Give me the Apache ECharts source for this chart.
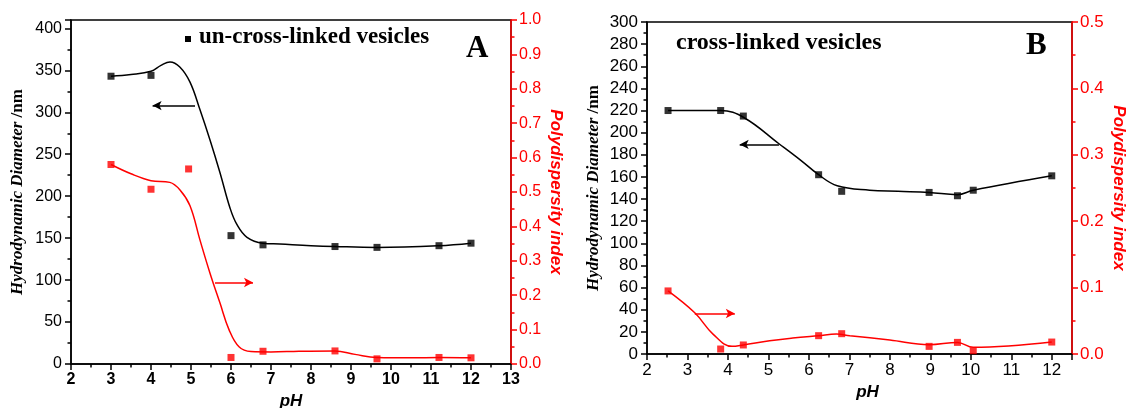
<!DOCTYPE html>
<html>
<head>
<meta charset="utf-8">
<script src="https://cdn.jsdelivr.net/npm/echarts@6/dist/echarts.min.js"></script>
<style>html,body{margin:0;padding:0;background:#fff}#c{width:1127px;height:408px}</style>
</head>
<body>
<div id="c"></div>
<script>
// ---------- Panel A (un-cross-linked vesicles) ----------
const phA = [3, 4, 6, 6.8, 8.6, 9.65, 11.2, 12];
const diamA = [343, 344, 153, 142, 140, 139, 141, 144];
const phPdiA = [3, 4, 4.94, 6, 6.8, 8.6, 9.65, 11.2, 12];
const pdiA = [0.58, 0.508, 0.567, 0.019, 0.037, 0.038, 0.015, 0.019, 0.018];
const fitDiamA = [[3,343],[3.5,345],[4,349],[4.25,356],[4.475,360],[4.72,354],[4.975,336],[5.225,303],[5.475,267],[5.725,228],[5.975,186],[6.15,166],[6.4,151],[6.8,144],[7.22,143],[8,141],[8.6,140],[9.65,139],[11.2,141],[12,144]];
const fitPdiA = [[3,0.58],[3.5,0.553],[4,0.533],[4.47,0.528],[4.725,0.506],[4.975,0.46],[5.225,0.36],[5.475,0.264],[5.725,0.177],[5.95,0.1],[6.2,0.05],[6.5,0.036],[7,0.035],[7.7,0.037],[8.6,0.038],[9.1,0.028],[9.65,0.019],[10.5,0.018],[11.2,0.019],[12,0.018]];
const arrowDiamA = [[5.1, 308], [4.04, 308]];
const arrowPdiA = [[5.6, 0.237], [6.55, 0.237]];

// ---------- Panel B (cross-linked vesicles) ----------
const phB = [2.52, 3.82, 4.38, 6.24, 6.81, 8.97, 9.67, 10.06, 12];
const diamB = [220, 220, 215, 162, 147, 146, 143, 148, 161];
const pdiB = [0.095, 0.0075, 0.0136, 0.0276, 0.0306, 0.0115, 0.0175, 0.005, 0.018];
const fitDiamB = [[2.52,220],[3.2,220],[3.82,220],[4.4,213.5],[5.26,190],[5.8,175],[6.24,162],[6.7,152],[7.5,148],[8.2,147],[8.97,146],[9.67,144],[10.06,148],[12,161]];
const fitPdiB = [[2.52,0.095],[3.18,0.062],[3.63,0.030],[4.1,0.0115],[4.38,0.0136],[5.03,0.020],[5.6,0.024],[6.24,0.0276],[6.68,0.030],[7.01,0.0276],[8,0.021],[8.97,0.014],[9.67,0.0175],[10.06,0.010],[12,0.018]];
const arrowDiamB = [[5.26, 189.4], [4.29, 189.4]];
const arrowPdiB = [[3.18, 0.061], [4.17, 0.061]];

const chart = echarts.init(document.getElementById('c'));
const SANS = 'Liberation Sans';
const SERIF = 'Liberation Serif';

function pairs(xs, ys){ return xs.map((x,i)=>[x, ys[i]]); }

function xAx(grid, min, max, bold, fs, gap, pad){
  return {
    type:'value', gridIndex:grid, min:min, max:max, interval:1,
    name:'pH', nameLocation:'middle', nameGap:gap,
    nameTextStyle:{fontFamily:SANS, fontWeight:'bold', fontStyle:'italic', fontSize:17, color:'#000', padding:[0,0,0,pad]},
    axisLine:{show:true, onZero:false, lineStyle:{color:'#000', width:1.5}},
    axisTick:{show:true, inside:false, length:6, lineStyle:{width:1.5}},
    minorTick:{show:true, splitNumber:2, length:3.5, lineStyle:{width:1.5, color:'#000'}},
    splitLine:{show:false},
    axisLabel:{fontFamily:SANS, fontSize:fs, fontWeight:bold?'bold':'normal', color:'#000', margin:8, showMaxLabel: max===13},
  };
}
function yLeft(grid, max, interval, gap, fs){
  return {
    type:'value', gridIndex:grid, position:'left', min:0, max:max, interval:interval,
    name:'{i|Hydrodynamic Diameter }{n|/nm}', nameLocation:'middle', nameGap:gap, nameRotate:90,
    nameTextStyle:{rich:{
      i:{fontFamily:SERIF, fontWeight:'bold', fontStyle:'italic', fontSize:17, color:'#000'},
      n:{fontFamily:SERIF, fontWeight:'bold', fontSize:17, color:'#000'}}},
    axisLine:{show:true, lineStyle:{color:'#000', width:1.5}},
    axisTick:{show:true, inside:false, length:6, lineStyle:{width:1.5}},
    minorTick:{show:true, splitNumber:2, length:3.5, lineStyle:{width:1.5, color:'#000'}},
    splitLine:{show:false},
    axisLabel:{fontFamily:SANS, fontSize:fs, color:'#000', margin:9, showMaxLabel: max%interval===0},
  };
}
function yRight(grid, max, gap, fs){
  return {
    type:'value', gridIndex:grid, position:'right', min:0, max:max, interval:0.1,
    name:'Polydispersity index', nameLocation:'middle', nameGap:gap, nameRotate:-90,
    nameTextStyle:{fontFamily:SANS, fontWeight:'bold', fontStyle:'italic', fontSize:17, color:'#ff0000'},
    axisLine:{show:true, lineStyle:{color:'#ff0000', width:1.5}},
    axisTick:{show:true, inside:false, length:6, lineStyle:{width:1.5}},
    minorTick:{show:true, splitNumber:2, length:3.5, lineStyle:{width:1.5, color:'#ff0000'}},
    splitLine:{show:false},
    axisLabel:{fontFamily:SANS, fontSize:fs, color:'#ff0000', margin:8, formatter:v=>v.toFixed(1)},
  };
}
function scat(xi, yi, data, color, size){
  return {type:'scatter', xAxisIndex:xi, yAxisIndex:yi, data:data, symbol:'rect', symbolSize:size,
    itemStyle:{color:color}, z:5, silent:true};
}
function fit(xi, yi, data, color, arrow){
  return {type:'line', xAxisIndex:xi, yAxisIndex:yi, data:data, smooth:0.4, showSymbol:false, symbol:'none',
    lineStyle:{color:color, width:1.5}, silent:true, z:3,
    markLine:{silent:true, symbol:['none','arrow'], symbolSize:[7,9], label:{show:false},
      lineStyle:{color:color, width:1.5, type:'solid'},
      data:[[{coord:arrow[0]},{coord:arrow[1]}]]}};
}

chart.setOption({
  animation:false,
  grid:[
    {left:71, top:20, width:440, height:344, show:true, borderColor:'#000', borderWidth:1.5, backgroundColor:'transparent', containLabel:false, outerBoundsMode:'none'},
    {left:647, top:22, width:425, height:332, show:true, borderColor:'#000', borderWidth:1.5, backgroundColor:'transparent', containLabel:false, outerBoundsMode:'none'}
  ],
  xAxis:[xAx(0,2,13,true,16,19,0), xAx(1,2,12.5,false,17,21,16)],
  yAxis:[yLeft(0,410,50,45,16), yRight(0,1.0,36,16), yLeft(1,300,20,45,17), yRight(1,0.5,38,17)],
  series:[
    fit(0,0,fitDiamA,'#000',arrowDiamA),
    fit(0,1,fitPdiA,'#ff0000',arrowPdiA),
    scat(0,0,pairs(phA,diamA),'#000',7),
    scat(0,1,pairs(phPdiA,pdiA),'#ff0000',7),
    fit(1,2,fitDiamB,'#000',arrowDiamB),
    fit(1,3,fitPdiB,'#ff0000',arrowPdiB),
    scat(1,2,pairs(phB,diamB),'#000',7),
    scat(1,3,pairs(phB,pdiB),'#ff0000',7)
  ],
  graphic:[
    {type:'rect', shape:{x:185, y:36, width:6, height:6}, style:{fill:'#000'}},
    {type:'text', left:199, top:26, style:{text:'un-cross-linked vesicles', font:'bold 23px "Liberation Serif"', fill:'#000'}},
    {type:'text', left:466, top:33, style:{text:'A', font:'bold 31px "Liberation Serif"', fill:'#000'}},
    {type:'text', left:676, top:31, style:{text:'cross-linked vesicles', font:'bold 24px "Liberation Serif"', fill:'#000'}},
    {type:'text', left:1026, top:30, style:{text:'B', font:'bold 31px "Liberation Serif"', fill:'#000'}}
  ]
});
</script>
</body>
</html>
